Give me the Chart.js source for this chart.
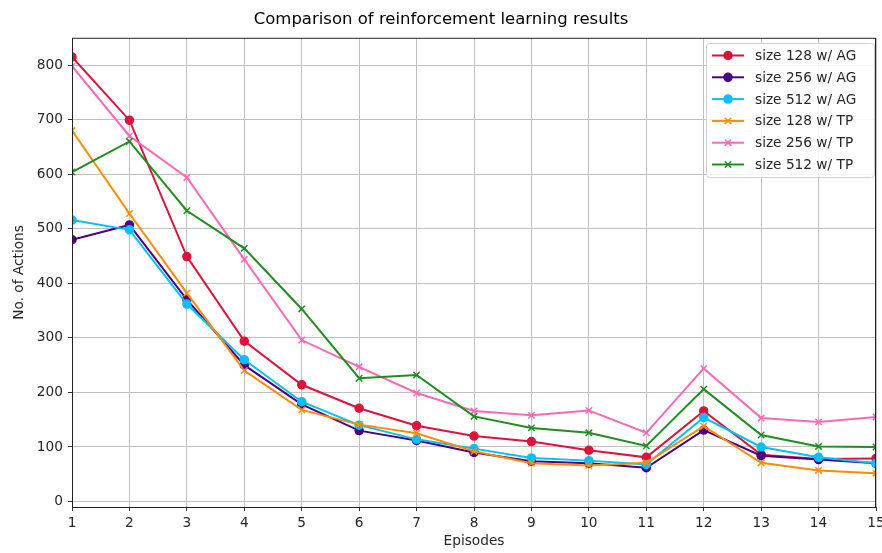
<!doctype html>
<html lang="en">
<head>
    <title>Comparison of reinforcement learning results</title>
    <script src="https://cdnjs.cloudflare.com/ajax/libs/Chart.js/4.4.1/chart.umd.min.js"></script>
    <style>
        body { margin: 0; background: #fff; }
    </style>
</head>
<body>
<div style="width: 882px; height: 553px;">
    <canvas id="chart" width="882" height="553"></canvas>
</div>

<script>
    const episodes = [1, 2, 3, 4, 5, 6, 7, 8, 9, 10, 11, 12, 13, 14, 15];
    const yTicks = [0, 100, 200, 300, 400, 500, 600, 700, 800];

    const size128AG = [815, 699, 449, 294, 214, 171, 139, 120, 110, 94, 81, 166, 86, 78, 79];
    const size256AG = [480, 507, 370, 250, 178, 130, 112, 90, 74, 70, 62, 131, 84, 77, 70];
    const size512AG = [516, 498, 362, 260, 183, 140, 114, 97, 80, 75, 68, 154, 100, 81, 70];
    const size128TP = [680, 528, 382, 240, 168, 141, 125, 92, 70, 66, 71, 138, 71, 57, 52];
    const size256TP = [798, 670, 594, 444, 296, 247, 199, 166, 158, 167, 126, 244, 153, 146, 155];
    const size512TP = [604, 660, 533, 464, 353, 226, 232, 156, 135, 126, 102, 206, 122, 101, 100];

    const seriesNames = ['size 128 w/ AG', 'size 256 w/ AG', 'size 512 w/ AG',
        'size 128 w/ TP', 'size 256 w/ TP', 'size 512 w/ TP'];
    const seriesData = [size128AG, size256AG, size512AG, size128TP, size256TP, size512TP];
    const seriesColors = ['#dc143c', '#4b0082', '#00bfff', '#ff8c00', '#ff69b4', '#228b22'];
    const seriesMarkers = ['circle', 'circle', 'circle', 'crossRot', 'crossRot', 'crossRot'];

    const font = "'DejaVu Sans', sans-serif";
    const textSize = 13.7;

    // box around the plot + legend in upper right, like matplotlib
    const frameAndLegend = {
        id: 'frameAndLegend',
        afterDatasetsDraw(chart) {
            const ctx = chart.ctx;
            const a = chart.chartArea;
            ctx.save();
            ctx.strokeStyle = '#222';
            ctx.lineWidth = 1;
            ctx.strokeRect(a.left + 0.5, a.top + 0.5, a.right - a.left - 1, a.bottom - a.top);

            const bx = 706, by = 43, bw = 168, bh = 134;
            ctx.fillStyle = 'rgba(255,255,255,0.85)';
            ctx.strokeStyle = '#d0d0d0';
            ctx.beginPath();
            ctx.roundRect(bx + 0.5, by + 0.5, bw, bh, 3);
            ctx.fill();
            ctx.stroke();

            ctx.font = textSize + 'px ' + font;
            ctx.textBaseline = 'middle';
            seriesNames.forEach(function (name, i) {
                const y = by + 12.5 + i * 21.8;
                ctx.strokeStyle = seriesColors[i];
                ctx.fillStyle = seriesColors[i];
                ctx.lineWidth = 2;
                ctx.beginPath();
                ctx.moveTo(bx + 6, y);
                ctx.lineTo(bx + 38, y);
                ctx.stroke();
                ctx.lineWidth = 1.5;
                Chart.helpers.drawPoint(ctx, {
                    pointStyle: seriesMarkers[i],
                    radius: seriesMarkers[i] === 'circle' ? 4 : 4.5,
                    borderWidth: 1.5,
                    rotation: 0
                }, bx + 22, y);
                ctx.fillStyle = '#262626';
                ctx.fillText(name, bx + 49, y + 1);
            });
            ctx.restore();
        }
    };

    const datasets = seriesNames.map(function (name, i) {
        return {
            label: name,
            data: episodes.map((e, j) => ({x: e, y: seriesData[i][j]})),
            borderColor: seriesColors[i],
            backgroundColor: seriesColors[i],
            pointStyle: seriesMarkers[i],
            pointRadius: seriesMarkers[i] === 'circle' ? 4 : 4.5,
            pointBorderWidth: 1.5,
            borderWidth: 2,
            tension: 0,
            order: 6 - i,
        };
    });

    new Chart(document.getElementById('chart'), {
        type: 'line',
        data: {datasets: datasets},
        plugins: [frameAndLegend],
        options: {
            responsive: false,
            animation: false,
            layout: {padding: {left: 0, right: 0, top: 0, bottom: 0}},
            plugins: {
                legend: {display: false},
                tooltip: {enabled: false},
                title: {
                    display: true,
                    text: 'Comparison of reinforcement learning results',
                    color: '#000',
                    font: {family: font, size: 16.5, weight: 'normal'},
                    padding: {top: 10, bottom: 8},
                },
            },
            scales: {
                x: {
                    type: 'linear',
                    min: 1,
                    max: 15,
                    afterBuildTicks: s => { s.ticks = episodes.map(v => ({value: v})); },
                    afterFit: s => { s.height = 46; s.paddingRight = 6; },
                    grid: {color: '#c0c0c0', tickColor: '#333', tickLength: 4},
                    border: {display: false},
                    ticks: {color: '#262626', font: {family: font, size: textSize}, padding: 4, maxRotation: 0},
                    title: {
                        display: true, text: 'Episodes', color: '#262626',
                        font: {family: font, size: textSize}, padding: {top: 0, bottom: 3},
                    },
                },
                y: {
                    min: -10,
                    max: 850,
                    afterBuildTicks: s => { s.ticks = yTicks.map(v => ({value: v})); },
                    afterFit: s => { s.width = 72; },
                    grid: {color: '#c0c0c0', tickColor: '#333', tickLength: 4},
                    border: {display: false},
                    ticks: {color: '#262626', font: {family: font, size: textSize}, padding: 5},
                    title: {
                        display: true, text: 'No. of Actions', color: '#262626',
                        font: {family: font, size: textSize}, padding: {top: 11, bottom: 0},
                    },
                },
            },
        },
    });
</script>
</body>
</html>
